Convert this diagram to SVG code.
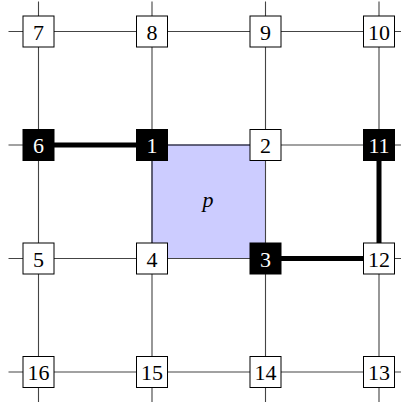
<svg xmlns="http://www.w3.org/2000/svg" width="401" height="403" viewBox="0 0 401 403">
<style>
.g{stroke:#444;stroke-width:1.1;fill:none}
.t{stroke:#000;stroke-width:5;fill:none}
.w rect{fill:#fff;stroke:#000;stroke-width:1}
.b rect{fill:#000;stroke:#000;stroke-width:1}
text{font-family:"Liberation Serif","DejaVu Serif",serif;font-size:22px;text-anchor:middle;dominant-baseline:central}
.w text{fill:#000}
.b text{fill:#fff}
</style>
<rect x="152" y="145" width="113.5" height="113.5" fill="#ccccff" stroke="#1a1a66" stroke-width="1"/>
<text x="208" y="199" font-style="italic" font-size="27">p</text>
<g id="connectors">
<path class="g" d="M38.5,1.5V402M152,1.5V402M265.5,1.5V402M379,1.5V402M8.5,31.5H401M8.5,145H401M8.5,258.5H401M8.5,372H401"/>
<path class="t" d="M38.5,145H152M265.5,258.5H379V145"/>
</g>
<g id="n7" class="w"><rect x="23" y="16" width="31" height="31"/><text x="38.5" y="32">7</text></g>
<g id="n8" class="w"><rect x="136.5" y="16" width="31" height="31"/><text x="152" y="32">8</text></g>
<g id="n9" class="w"><rect x="250" y="16" width="31" height="31"/><text x="265.5" y="32">9</text></g>
<g id="n10" class="w"><rect x="363.5" y="16" width="31" height="31"/><text x="379" y="32">10</text></g>
<g id="n6" class="b"><rect x="23" y="129.5" width="31" height="31"/><text x="38.5" y="145.5">6</text></g>
<g id="n1" class="b"><rect x="136.5" y="129.5" width="31" height="31"/><text x="152" y="145.5">1</text></g>
<g id="n2" class="w"><rect x="250" y="129.5" width="31" height="31"/><text x="265.5" y="145.5">2</text></g>
<g id="n11" class="b"><rect x="363.5" y="129.5" width="31" height="31"/><text x="379" y="145.5">11</text></g>
<g id="n5" class="w"><rect x="23" y="243" width="31" height="31"/><text x="38.5" y="259">5</text></g>
<g id="n4" class="w"><rect x="136.5" y="243" width="31" height="31"/><text x="152" y="259">4</text></g>
<g id="n3" class="b"><rect x="250" y="243" width="31" height="31"/><text x="265.5" y="259">3</text></g>
<g id="n12" class="w"><rect x="363.5" y="243" width="31" height="31"/><text x="379" y="259">12</text></g>
<g id="n16" class="w"><rect x="23" y="356.5" width="31" height="31"/><text x="38.5" y="372.5">16</text></g>
<g id="n15" class="w"><rect x="136.5" y="356.5" width="31" height="31"/><text x="152" y="372.5">15</text></g>
<g id="n14" class="w"><rect x="250" y="356.5" width="31" height="31"/><text x="265.5" y="372.5">14</text></g>
<g id="n13" class="w"><rect x="363.5" y="356.5" width="31" height="31"/><text x="379" y="372.5">13</text></g>
</svg>
